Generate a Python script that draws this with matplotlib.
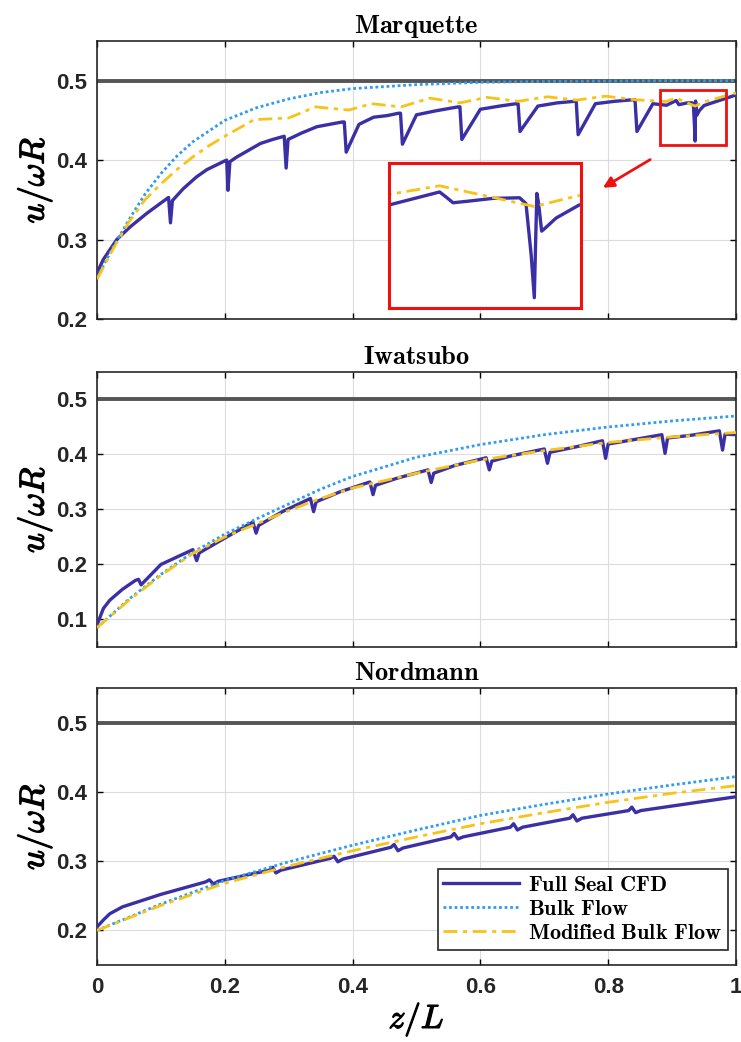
import numpy as np
import matplotlib
matplotlib.use("Agg")
import matplotlib.pyplot as plt
from matplotlib.patches import Rectangle
import matplotlib.patheffects as pe

plt.rcParams['mathtext.fontset'] = 'cm'
plt.rcParams['font.family'] = 'Liberation Sans'

# ---------------- data ----------------
# Marquette
z_top_cfd = [0, 0.01, 0.031, 0.052, 0.078, 0.1, 0.112, 0.115, 0.118, 0.135, 0.156, 0.172, 0.2, 0.203,
             0.205, 0.208, 0.219, 0.256, 0.275, 0.293, 0.296, 0.299, 0.32, 0.344, 0.384, 0.387, 0.39,
             0.41, 0.433, 0.454, 0.472, 0.475, 0.478, 0.5, 0.53, 0.565, 0.568, 0.571, 0.6, 0.63, 0.656, 0.659,
             0.662, 0.69, 0.72, 0.747, 0.75, 0.753, 0.78, 0.81, 0.839, 0.842, 0.845, 0.87, 0.8913,
             0.9064, 0.9085, 0.9106, 0.915, 0.923, 0.9314, 0.9334, 0.935, 0.936, 0.9364, 0.9368,
             0.9373, 0.9383, 0.939, 0.9428, 0.95, 0.97, 1.0]
top_cfd = [0.258, 0.275, 0.3, 0.316, 0.333, 0.346, 0.353, 0.321, 0.349, 0.364, 0.379, 0.388, 0.399, 0.4,
           0.362, 0.398, 0.404, 0.421, 0.426, 0.43, 0.39, 0.426, 0.434, 0.442, 0.448, 0.448, 0.41,
           0.445, 0.454, 0.456, 0.459, 0.459, 0.42, 0.457, 0.462, 0.467, 0.467, 0.426, 0.464, 0.468, 0.471, 0.471,
           0.436, 0.468, 0.472, 0.474, 0.474, 0.432, 0.471, 0.474, 0.476, 0.476, 0.436, 0.471, 0.469,
           0.475, 0.4725, 0.4698, 0.4705, 0.4719, 0.4722, 0.4694, 0.445, 0.424, 0.45, 0.4743,
           0.47, 0.4561, 0.457, 0.4624, 0.4687, 0.474, 0.482]
z_top_bulk = [0, 0.025, 0.05, 0.075, 0.1, 0.125, 0.15, 0.2, 0.25, 0.3, 0.35, 0.4, 0.5, 0.6, 0.7, 0.8, 0.9, 1.0]
top_bulk = [0.252, 0.29, 0.325, 0.357, 0.383, 0.405, 0.423, 0.45, 0.466, 0.477, 0.485, 0.49,
            0.495, 0.498, 0.499, 0.4995, 0.5, 0.5]
z_top_mod = [0, 0.025, 0.05, 0.075, 0.1, 0.125, 0.15, 0.175, 0.2, 0.246, 0.3, 0.342, 0.394, 0.43,
             0.476, 0.521, 0.568, 0.61, 0.659, 0.705, 0.75, 0.796, 0.842, 0.8906, 0.9064, 0.936, 0.95, 1.0]
top_mod = [0.25, 0.288, 0.322, 0.35, 0.37, 0.388, 0.404, 0.418, 0.43, 0.451, 0.453, 0.467, 0.463,
           0.471, 0.467, 0.478, 0.472, 0.479, 0.474, 0.4797, 0.4755, 0.4805, 0.476, 0.4738, 0.478,
           0.468, 0.4733, 0.4845]

# Iwatsubo
z_mid_cfd = [0, 0.01, 0.02, 0.04, 0.06, 0.065, 0.069, 0.1, 0.15, 0.156, 0.16, 0.2, 0.244, 0.249,
             0.253, 0.29, 0.334, 0.339, 0.343, 0.38, 0.427, 0.432, 0.436, 0.47, 0.518, 0.523, 0.527,
             0.56, 0.609, 0.614, 0.618, 0.65, 0.7, 0.705, 0.709, 0.75, 0.791, 0.796, 0.8, 0.84,
             0.884, 0.889, 0.893, 0.93, 0.974, 0.979, 0.983, 1.0]
mid_cfd = [0.09, 0.12, 0.135, 0.155, 0.171, 0.173, 0.163, 0.2, 0.227, 0.207, 0.221, 0.248, 0.277,
           0.257, 0.271, 0.296, 0.32, 0.296, 0.314, 0.332, 0.35, 0.327, 0.344, 0.357, 0.372, 0.349,
           0.366, 0.38, 0.394, 0.372, 0.388, 0.398, 0.41, 0.384, 0.404, 0.414, 0.425, 0.393, 0.419,
           0.427, 0.436, 0.402, 0.43, 0.435, 0.443, 0.408, 0.437, 0.436]
z_mid_bulk = [0, 0.05, 0.1, 0.15, 0.2, 0.25, 0.3, 0.35, 0.4, 0.5, 0.6, 0.7, 0.8, 0.9, 1.0]
mid_bulk = [0.085, 0.137, 0.182, 0.222, 0.255, 0.283, 0.31, 0.337, 0.36, 0.395, 0.418, 0.436,
            0.45, 0.461, 0.47]
mid_mod = [0.085, 0.135, 0.18, 0.22, 0.25, 0.274, 0.298, 0.32, 0.339, 0.366, 0.39, 0.407,
           0.422, 0.432, 0.44]

# Nordmann
z_bot_cfd = [0, 0.01, 0.02, 0.04, 0.1, 0.17, 0.176, 0.182, 0.19, 0.27, 0.275, 0.28, 0.288, 0.365,
             0.371, 0.377, 0.385, 0.46, 0.465, 0.471, 0.479, 0.554, 0.559, 0.565, 0.573, 0.647,
             0.652, 0.658, 0.666, 0.74, 0.745, 0.751, 0.759, 0.832, 0.837, 0.843, 0.851, 1.0]
bot_cfd = [0.205, 0.215, 0.224, 0.234, 0.252, 0.27, 0.273, 0.267, 0.271, 0.287, 0.291, 0.283,
           0.287, 0.304, 0.307, 0.299, 0.303, 0.32, 0.324, 0.315, 0.319, 0.335, 0.34, 0.332,
           0.335, 0.349, 0.354, 0.345, 0.349, 0.362, 0.367, 0.358, 0.362, 0.373, 0.378, 0.37,
           0.373, 0.393]
z_bot_bulk = [0, 0.1, 0.2, 0.3, 0.4, 0.5, 0.6, 0.7, 0.8, 0.9, 1.0]
bot_bulk = [0.2, 0.238, 0.272, 0.299, 0.323, 0.345, 0.366, 0.382, 0.397, 0.41, 0.422]
bot_mod = [0.2, 0.236, 0.268, 0.293, 0.315, 0.335, 0.354, 0.37, 0.385, 0.398, 0.409]

titles = ['Marquette', 'Iwatsubo', 'Nordmann']
ylims = [(0.2, 0.55), (0.05, 0.55), (0.15, 0.55)]
yticks = [[0.2, 0.3, 0.4, 0.5], [0.1, 0.2, 0.3, 0.4, 0.5], [0.2, 0.3, 0.4, 0.5]]
xticks = [0, 0.2, 0.4, 0.6, 0.8, 1]
xticklabels = ['0', '0.2', '0.4', '0.6', '0.8', '1']

panels = [
    (z_top_cfd, top_cfd, z_top_bulk, top_bulk, z_top_mod, top_mod),
    (z_mid_cfd, mid_cfd, z_mid_bulk, mid_bulk, z_mid_bulk, mid_mod),
    (z_bot_cfd, bot_cfd, z_bot_bulk, bot_bulk, z_bot_bulk, bot_mod),
]

c_cfd = '#3b2fa6'
c_bulk = '#2e9cf0'
c_mod = '#f7c318'
bold = [pe.withStroke(linewidth=0.9, foreground='black')]

fig = plt.figure(figsize=(7.41, 10.42), dpi=100)
boxes = [[0.1309, 0.6939, 0.8623, 0.2668],
         [0.1309, 0.3791, 0.8623, 0.2639],
         [0.1309, 0.0739, 0.8623, 0.2658]]

axes = []
for i, (zc, cfd, zb, bulk, zm, mod) in enumerate(panels):
    ax = fig.add_axes(boxes[i])
    ax.axhline(0.5, color='#555555', lw=2.8, zorder=2)
    l1, = ax.plot(zc, cfd, color=c_cfd, lw=2.4, label=r'$\mathbf{Full\ Seal\ CFD}$', zorder=3)
    l2, = ax.plot(zb, bulk, color=c_bulk, lw=2.0, ls=(0, (1, 1)), label=r'$\mathbf{Bulk\ Flow}$', zorder=4)
    l3, = ax.plot(zm, mod, color=c_mod, lw=2.0, ls=(0, (5, 2, 1.5, 2)),
                  label=r'$\mathbf{Modified\ Bulk\ Flow}$', zorder=5)
    ax.set_xlim(0, 1)
    ax.set_ylim(*ylims[i])
    ax.set_yticks(yticks[i])
    ax.set_yticklabels([f'{t:.1f}' for t in yticks[i]], fontsize=16, fontweight='bold', color='#262626')
    ax.set_xticks(xticks)
    if i == 2:
        ax.set_xticklabels(xticklabels, fontsize=16, fontweight='bold', color='#262626')
        ax.set_xlabel(r'$z/L$', fontsize=24, labelpad=1, path_effects=bold)
    else:
        ax.set_xticklabels([])
    ax.grid(True, color='#dcdcdc', lw=0.8)
    ax.tick_params(direction='in', top=True, right=True, length=4, width=1, pad=7)
    ax.tick_params(axis='x', pad=9)
    for s in ax.spines.values():
        s.set_color('#262626')
        s.set_linewidth(1.2)
    ax.set_title(r'$\mathbf{' + titles[i] + '}$', fontsize=19, pad=6)
    ax.set_ylabel(r'$u/\omega R$', fontsize=25, labelpad=2, path_effects=bold)
    axes.append(ax)

# legend in bottom panel
leg = axes[2].legend(handles=[l1, l2, l3], loc='lower right', bbox_to_anchor=(0.987, 0.055),
                     fontsize=16, frameon=True, fancybox=False, edgecolor='#262626',
                     handlelength=3.4, handletextpad=0.4, borderpad=0.25, labelspacing=0.15,
                     borderaxespad=0)
leg.get_frame().set_linewidth(1.2)
leg.get_frame().set_alpha(1)

# zoom box, arrow and inset in the top panel
ax = axes[0]
rx0, rx1, ry0, ry1 = 0.881, 0.984, 0.419, 0.4886
ax.add_patch(Rectangle((rx0, ry0), rx1 - rx0, ry1 - ry0, fill=False, ec='#ee1111', lw=2, zorder=6))
ax.annotate('', xy=(0.788, 0.3634), xytext=(0.8695, 0.4024),
            arrowprops=dict(arrowstyle='-|>', color='#ee1111', lw=2, mutation_scale=16))

ins = fig.add_axes([0.525, 0.7044, 0.2591, 0.1392])
ins.plot(z_top_cfd, top_cfd, color=c_cfd, lw=2.4)
ins.plot(z_top_mod, top_mod, color=c_mod, lw=2.0, ls=(0, (5, 2, 1.5, 2)))
ins.set_xlim(0.8906, 0.9506)
ins.set_ylim(0.419, 0.489)
ins.set_xticks([])
ins.set_yticks([])
for s in ins.spines.values():
    s.set_color('#ee1111')
    s.set_linewidth(2.2)

fig.savefig('out.png', dpi=100)
